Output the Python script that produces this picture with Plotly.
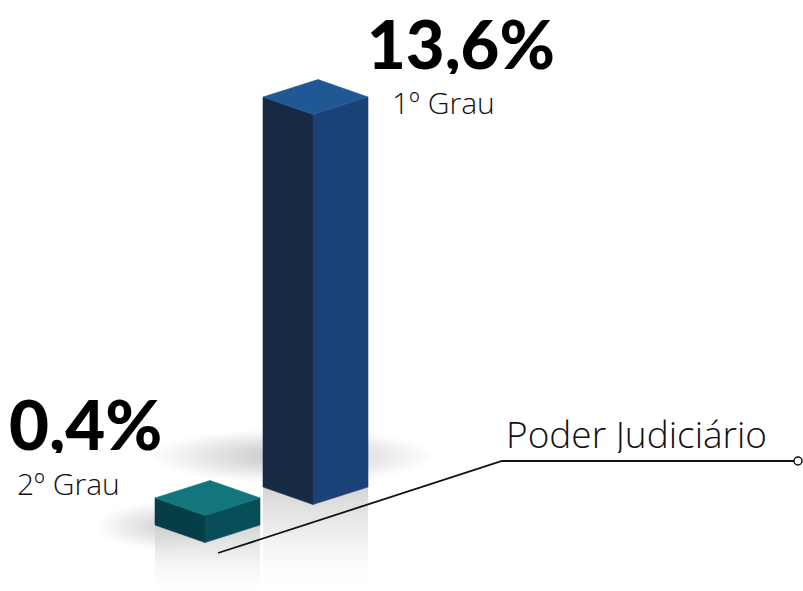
import math
import plotly.graph_objects as go

# ---------------- data ----------------
categories = ["2º Grau", "1º Grau"]
values = [0.4, 13.6]
value_labels = ["0,4%", "13,6%"]
series_name = "Poder Judiciário"

# ---------------- layout / style constants ----------------
W, H = 803, 591
Y_LOG_RANGE = [-0.7533, 1.5042]          # log10 axis range
S = H / (Y_LOG_RANGE[1] - Y_LOG_RANGE[0])  # px per decade
P0 = Y_LOG_RANGE[1] * S


def py2v(py):
    """convert a pixel row (from top) into an axis value (decorations only)"""
    return 10 ** ((P0 - py) / S)


X0, STEP = 155, 108      # left edge of first bar, spacing
WL, WR = 50, 55          # widths of left / right visible faces
SLANT = 17.5             # isometric slant in px
K = 10 ** (SLANT / S)
FLOOR_PX = [525, 487]    # floor level under each bar (depth)

colors = [
    dict(top="#13767c", left="#053e46", right="#074e58"),
    dict(top="#1f5895", left="#172a44", right="#1b4276"),
]

fig = go.Figure()
shapes = []


# soft floor shadows (stacked translucent ellipses)
def shadow(cx, cy, rx, ry, n, rgb, a):
    for i in range(n):
        f = 1 - i / n
        shapes.append(dict(type="circle", xref="x", yref="paper", layer="below",
                           x0=cx - rx * f, x1=cx + rx * f,
                           y0=1 - (cy + ry * f) / H, y1=1 - (cy - ry * f) / H,
                           line=dict(width=0), fillcolor=f"rgba({rgb},{a})"))


shadow(292, 456, 140, 27, 30, "120,126,126", 0.013)
shadow(170, 526, 72, 24, 24, "120,126,126", 0.014)

bottom_v = py2v(H + 5)

for i, (cat, val) in enumerate(zip(categories, values)):
    xl = X0 + i * STEP
    xm = xl + WL
    xr = xl + WL + WR
    base = py2v(FLOOR_PX[i])
    c = colors[i]
    # reflection band below the bar
    fig.add_trace(go.Scatter(
        x=[xl, xm, xr, xr, xl, xl], y=[base, base / K, base, bottom_v, bottom_v, base],
        fill="toself", mode="lines", line=dict(width=0),
        fillgradient=dict(type="vertical",
                          colorscale=[[0, "rgba(255,255,255,0)"], [0.55, "rgba(228,228,228,0.6)"],
                                      [1, "rgba(205,205,205,0.85)"]]),
        hoverinfo="skip", showlegend=False))
    # left face
    fig.add_trace(go.Scatter(
        x=[xl, xm, xm, xl, xl], y=[val, val / K, base / K, base, val],
        fill="toself", mode="lines", fillcolor=c["left"], line=dict(width=0.6, color=c["left"]),
        hoverinfo="skip", showlegend=False))
    # right face
    fig.add_trace(go.Scatter(
        x=[xm, xr, xr, xm, xm], y=[val / K, val, base, base / K, val / K],
        fill="toself", mode="lines", fillcolor=c["right"], line=dict(width=0.6, color=c["right"]),
        hoverinfo="skip", showlegend=False))
    # top face
    fig.add_trace(go.Scatter(
        x=[xl, xl + WR, xr, xm, xl], y=[val, val * K, val, val / K, val],
        fill="toself", mode="lines", fillcolor=c["top"], line=dict(width=0.6, color=c["top"]),
        name=cat, hoverinfo="skip", showlegend=False))


# leader line for the series label
def pp(px, py):
    return px / W, 1 - py / H


ax, ay = pp(218, 553)
bx, by = pp(502, 461)
cx_, cy_ = pp(794, 461)
shapes.append(dict(type="path", xref="paper", yref="paper", layer="above",
                   path=f"M {ax},{ay} L {bx},{by} L {cx_},{cy_}",
                   line=dict(color="#111111", width=1.8)))
shapes.append(dict(type="circle", xref="paper", yref="paper", layer="above",
                   x0=794 / W, x1=802 / W, y0=1 - 465 / H, y1=1 - 457 / H,
                   fillcolor="white", line=dict(color="#111111", width=1.5)))

BIG1 = dict(family="Lato, sans-serif", size=67, color="#000000", weight=900)
BIG0 = dict(family="Lato, sans-serif", size=69, color="#000000", weight=900)
THIN = dict(family="Open Sans, sans-serif", size=30, color="#111111", weight=300)

annotations = [
    dict(text=value_labels[1], x=366 / W, y=1 - 43 / H, font=BIG1, height=62),
    dict(text=categories[1], x=391 / W, y=1 - 102 / H, font=THIN, height=32),
    dict(text=value_labels[0], x=8 / W, y=1 - 423 / H, font=BIG0, height=60),
    dict(text=categories[0], x=16 / W, y=1 - 483 / H, font=THIN, height=32),
    dict(text=series_name, x=505 / W, y=1 - 433 / H, height=40,
         font=dict(family="Open Sans, sans-serif", size=37, color="#111111", weight=300)),
]
for a in annotations:
    a.update(xref="paper", yref="paper", xanchor="left", yanchor="middle", valign="middle",
             showarrow=False, borderpad=0)

fig.update_layout(
    width=W, height=H, margin=dict(l=0, r=0, t=0, b=0),
    paper_bgcolor="white", plot_bgcolor="white",
    xaxis=dict(range=[0, W], visible=False, fixedrange=True),
    yaxis=dict(type="log", range=Y_LOG_RANGE, visible=False, fixedrange=True),
    shapes=shapes, annotations=annotations, hovermode=False, showlegend=False,
)

fig.write_html("out.html", config={"displayModeBar": False},
               post_script="document.body.style.margin='0';document.body.style.overflow='hidden';")
